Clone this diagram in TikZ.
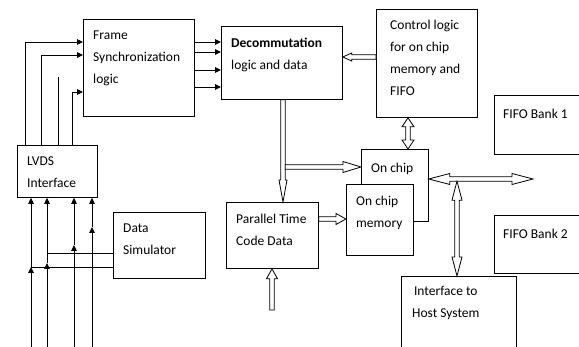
\documentclass[tikz,border=0pt]{standalone}
\usepackage{fontspec}
\setmainfont{Carlito}
\usetikzlibrary{arrows.meta,calc}
% hollow block arrows: from, to, head length, head half width
\newcommand{\blockarrow}[4]{%
  \draw[hollow] let \p1=(#1), \p2=(#2), \n1={atan2(\y2-\y1,\x2-\x1)},
    \n2={veclen(\x2-\x1,\y2-\y1)} in [shift={(\p1)}, rotate=\n1]
    (0,2.2) -- (\n2-#3,2.2) -- (\n2-#3,#4) -- (\n2,0) -- (\n2-#3,-#4)
    -- (\n2-#3,-2.2) -- (0,-2.2) -- cycle;}
\newcommand{\blockboth}[4]{%
  \draw[hollow] let \p1=(#1), \p2=(#2), \n1={atan2(\y2-\y1,\x2-\x1)},
    \n2={veclen(\x2-\x1,\y2-\y1)} in [shift={(\p1)}, rotate=\n1]
    (0,0) -- (#3,#4) -- (#3,2.2) -- (\n2-#3,2.2) -- (\n2-#3,#4) -- (\n2,0)
    -- (\n2-#3,-#4) -- (\n2-#3,-2.2) -- (#3,-2.2) -- (#3,-#4) -- cycle;}

\begin{document}
\begin{tikzpicture}[x=1pt, y=-1pt,
  box/.style={draw, fill=white, anchor=north west, inner sep=0pt, line width=0.8pt},
  txt/.style={anchor=north west, align=left, inner sep=0pt, xshift=10pt, yshift=-11.7pt,
    font=\fontsize{13.5}{22}\selectfont},
  arr/.style={-{Triangle[length=6pt,width=5.5pt]}, line width=0.9pt},
  hollow/.style={draw, fill=white, line width=0.8pt, line join=miter}]
\useasboundingbox (0,0) rectangle (579,347);
\node[box, minimum width=111pt, minimum height=97pt,
  label={[txt]north west:{Frame\\Synchronization\\logic}}] (frame) at (83,19) {};
\node[box, minimum width=121pt, minimum height=73pt,
  label={[txt]north west:{\textbf{Decommutation}\\logic and data}}] (decomm) at (221,26) {};
\node[box, minimum width=101pt, minimum height=108pt,
  label={[txt, xshift=4pt, yshift=1pt]north west:{Control logic\\for on chip\\memory and\\FIFO}}] (ctrl) at (376,9) {};
\node[box, minimum width=95pt, minimum height=59pt,
  label={[txt, xshift=-1pt, yshift=-2.5pt]north west:{FIFO Bank 1}}] (fifoA) at (494,95) {};
\node[box, minimum width=95pt, minimum height=58pt,
  label={[txt, xshift=-1pt, yshift=-2.5pt]north west:{FIFO Bank 2}}] (fifoB) at (494,215) {};
\node[box, minimum width=67pt, minimum height=72pt,
  label={[txt, yshift=-2pt]north west:{On chip}}] (onchip) at (361,149) {};
\node[box, minimum width=67pt, minimum height=71pt,
  label={[txt]north west:{On chip\\memory}}] (mem) at (346,184) {};
\node[box, minimum width=92pt, minimum height=66pt,
  label={[txt]north west:{Parallel Time\\Code Data}}] (ptc) at (226,202) {};
\node[box, minimum width=92pt, minimum height=66pt,
  label={[txt]north west:{Data\\Simulator}}] (sim) at (113,212) {};
\node[box, minimum width=80pt, minimum height=52pt,
  label={[txt]north west:{LVDS\\Interface}}] (lvds) at (17,145) {};
\node[box, minimum width=115pt, minimum height=90pt,
  label={[txt, align=center, xshift=1pt, yshift=2pt]north west:{Interface to\\Host System}}] (host) at (401,276) {};
% LVDS to frame synchronization
\draw[arr] ([xshift=8pt]lvds.north west) |- ([yshift=-23pt]frame.north west);
\draw[arr] ([xshift=24pt]lvds.north west) |- ([yshift=-36pt]frame.north west);
\draw[line width=0.9pt] ([xshift=41pt]lvds.north west) -- ++(0,-68);
\draw[arr] ([xshift=55pt]lvds.north west) |- ([yshift=-73pt]frame.north west);
\foreach \y in {42,52,70,87}
  \draw[arr] (frame.east |- 0,\y) -- (decomm.west |- 0,\y);
% input lines
\foreach \x/\m in {31/267, 47/263, 74/245, 92/227} {
  \coordinate (in\x) at (\x,347);
  \draw[arr] (in\x) -- (\x,\m);
  \draw[arr] (\x,\m) -- (lvds.south -| in\x);
}
\draw[line width=0.9pt] (sim.west |- 0,253) -- (in47 |- 0,253);
\draw[line width=0.9pt] (sim.west |- 0,267) -- (in31 |- 0,267);
% block arrows
\blockarrow{ctrl.west |- 0,57}{decomm.east |- 0,57}{9}{4}
\blockarrow{decomm.south -| 283,0}{ptc.north -| 283,0}{22}{4}
\coordinate (split) at (285.2,167);
\blockarrow{split}{onchip.west |- split}{18}{5.5}
\blockarrow{ptc.east |- 0,219}{mem.west |- 0,219}{10}{5.5}
\coordinate (ext) at (272,310);
\blockarrow{ext}{ptc.south -| ext}{10}{5.5}
\blockboth{ctrl.south -| 408,0}{onchip.north -| 408,0}{9}{6}
\coordinate (bus) at (533,179);
\blockboth{onchip.east |- bus}{bus}{21}{5.5}
\coordinate (tee) at (457,181.2);
\blockboth{tee}{host.north -| tee}{19}{5}
\end{tikzpicture}
\end{document}
